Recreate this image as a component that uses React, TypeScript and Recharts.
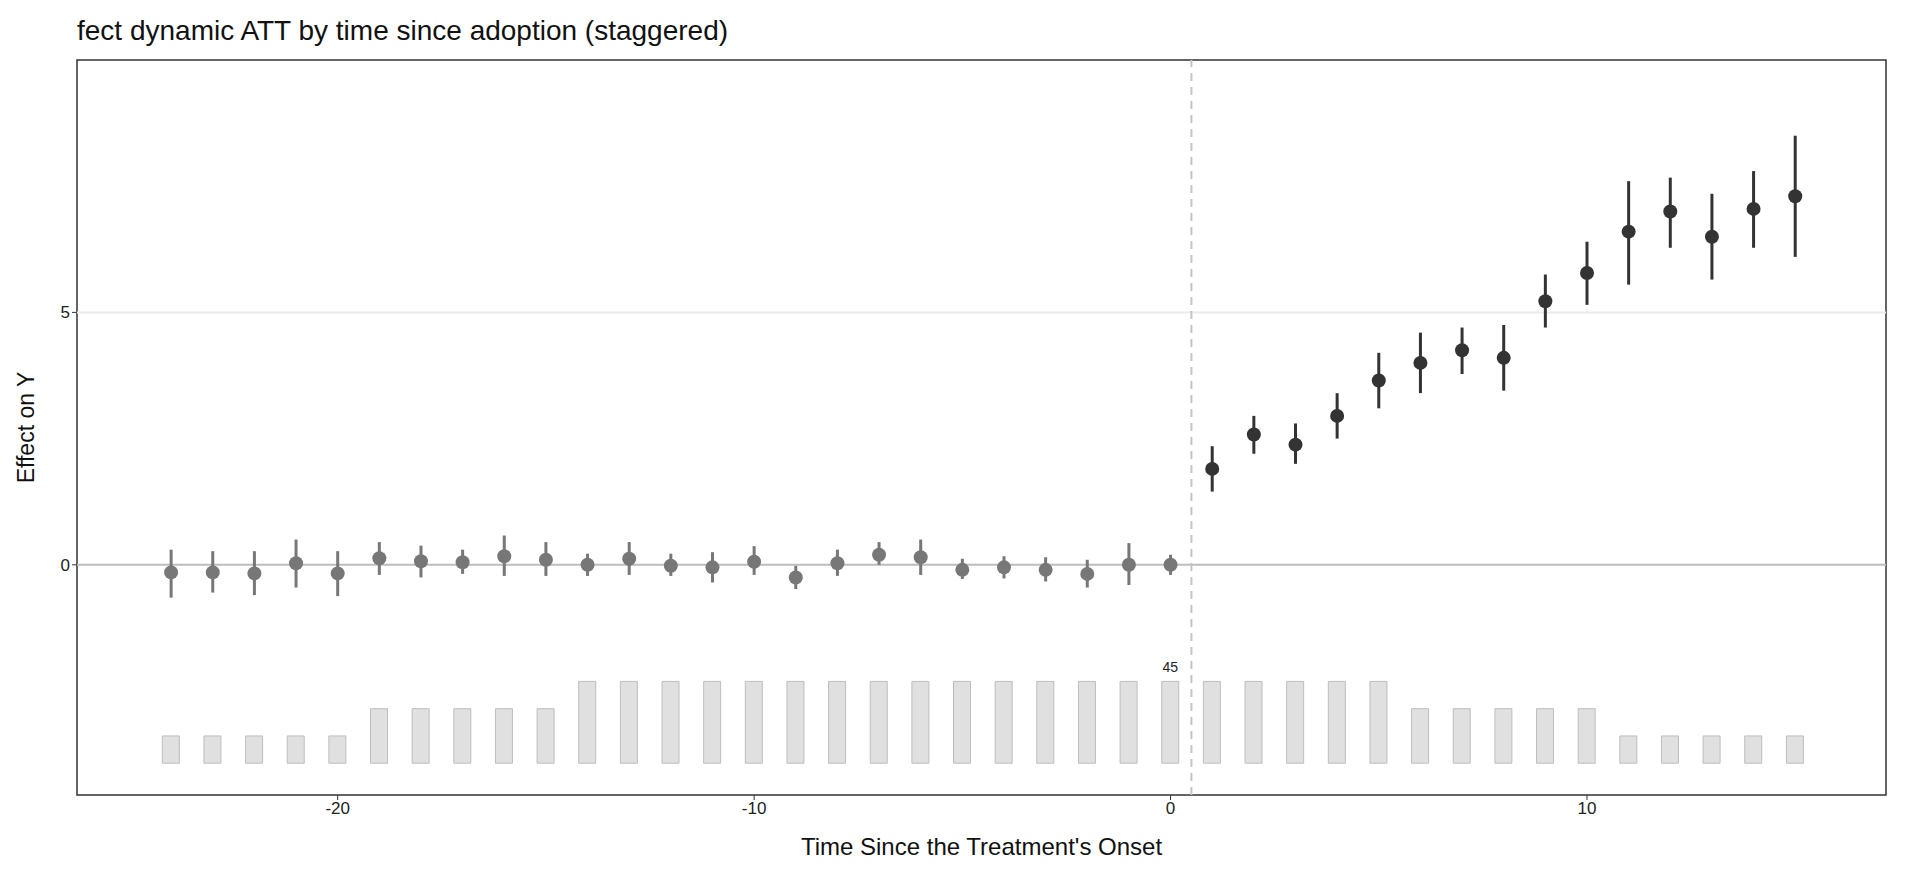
import React from "react";
import {
  ComposedChart,
  XAxis,
  YAxis,
  Bar,
  Scatter,
  ErrorBar,
  ReferenceLine,
  ReferenceArea,
  LabelList,
} from "recharts";

// event time, estimate, CI bounds, treated-unit counts
const times = [
  -24, -23, -22, -21, -20, -19, -18, -17, -16, -15, -14, -13, -12, -11, -10, -9, -8, -7, -6, -5,
  -4, -3, -2, -1, 0, 1, 2, 3, 4, 5, 6, 7, 8, 9, 10, 11, 12, 13, 14, 15,
];
const estimates = [
  -0.15, -0.15, -0.17, 0.03, -0.17, 0.13, 0.07, 0.05, 0.17, 0.1, 0.0, 0.12, -0.02, -0.05, 0.06,
  -0.25, 0.03, 0.2, 0.15, -0.1, -0.05, -0.1, -0.18, 0.0, 0.0, 1.9, 2.58, 2.38, 2.95, 3.65, 4.0,
  4.25, 4.1, 5.22, 5.78, 6.6, 7.0, 6.5, 7.05, 7.3,
];
const ciLow = [
  -0.65, -0.55, -0.6, -0.45, -0.62, -0.2, -0.25, -0.18, -0.22, -0.22, -0.22, -0.2, -0.22, -0.35,
  -0.2, -0.48, -0.22, 0.0, -0.2, -0.28, -0.27, -0.33, -0.45, -0.4, -0.2, 1.45, 2.2, 2.0, 2.5, 3.1,
  3.4, 3.78, 3.45, 4.7, 5.15, 5.55, 6.28, 5.65, 6.28, 6.1,
];
const ciHigh = [
  0.3, 0.27, 0.27, 0.5, 0.27, 0.45, 0.38, 0.3, 0.58, 0.45, 0.22, 0.45, 0.22, 0.25, 0.37, -0.02,
  0.3, 0.45, 0.5, 0.12, 0.17, 0.15, 0.1, 0.43, 0.2, 2.35, 2.95, 2.8, 3.4, 4.2, 4.6, 4.7, 4.75, 5.75,
  6.4, 7.6, 7.67, 7.35, 7.8, 8.5,
];
const counts = [
  15, 15, 15, 15, 15, 30, 30, 30, 30, 30, 45, 45, 45, 45, 45, 45, 45, 45, 45, 45, 45, 45, 45, 45,
  45, 45, 45, 45, 45, 45, 30, 30, 30, 30, 30, 15, 15, 15, 15, 15,
];

const BAR_BASE = -3.93;
const BAR_SCALE = 0.036;

const data = times.map((t, i) => ({
  t,
  est: estimates[i],
  err: [estimates[i] - ciLow[i], ciHigh[i] - estimates[i]],
  count: counts[i],
  bar: [BAR_BASE, BAR_BASE + counts[i] * BAR_SCALE],
}));
const pre = data.filter((d) => d.t <= 0);
const post = data.filter((d) => d.t > 0);

const X_DOMAIN: [number, number] = [-26.26, 17.18];
const Y_DOMAIN: [number, number] = [-4.56, 10.0];
const font = "Liberation Sans, Arial, sans-serif";

const dot = (color: string) => (p: any) => <circle cx={p.cx} cy={p.cy} r={7} fill={color} />;

export default function App() {
  return (
    <div style={{ position: "absolute", left: 0, top: 0, width: 1920, height: 883, background: "#fff", fontFamily: font }}>
      <div style={{ position: "absolute", left: 77, top: 15, fontSize: 28, color: "#111" }}>
        fect dynamic ATT by time since adoption (staggered)
      </div>
      <ComposedChart
        width={1920}
        height={883}
        data={data}
        margin={{ top: 60, right: 34, left: 0, bottom: 0 }}
      >
        <XAxis
          dataKey="t"
          type="number"
          domain={X_DOMAIN}
          ticks={[-20, -10, 0, 10]}
          allowDataOverflow
          height={88}
          axisLine={false}
          tickLine={{ stroke: "#333" }}
          tickSize={5}
          tick={{ fill: "#222", fontSize: 17, fontFamily: font }}
          label={{ value: "Time Since the Treatment's Onset", position: "insideBottom", offset: 28, fill: "#111", fontSize: 24, fontFamily: font }}
        />
        <YAxis
          type="number"
          domain={Y_DOMAIN}
          ticks={[0, 5]}
          allowDataOverflow
          width={77}
          axisLine={false}
          tickLine={{ stroke: "#333" }}
          tickSize={5}
          tick={{ fill: "#222", fontSize: 17, fontFamily: font }}
          label={{ value: "Effect on Y", angle: -90, position: "insideLeft", offset: 26, fill: "#111", fontSize: 23, fontFamily: font, style: { textAnchor: "middle" } }}
        />
        <ReferenceLine y={5} stroke="#ebebeb" strokeWidth={2} />
        <ReferenceLine y={0} stroke="#bdbdbd" strokeWidth={2} />
        <ReferenceLine x={0.5} stroke="#c4c4c4" strokeWidth={2} strokeDasharray="8 6" />
        <Bar dataKey="bar" barSize={17} fill="#e0e0e0" stroke="#bdbdbd" isAnimationActive={false}>
          <LabelList
            dataKey="count"
            content={(p: any) =>
              p.index === 24 ? (
                <text x={p.x + p.width / 2} y={p.y - 9} textAnchor="middle" fontSize={14} fill="#222" fontFamily={font}>
                  {p.value}
                </text>
              ) : null
            }
          />
        </Bar>
        <Scatter data={pre} dataKey="est" shape={dot("#777777")} isAnimationActive={false}>
          <ErrorBar dataKey="err" direction="y" width={0} stroke="#777777" strokeWidth={3} />
        </Scatter>
        <Scatter data={post} dataKey="est" shape={dot("#333333")} isAnimationActive={false}>
          <ErrorBar dataKey="err" direction="y" width={0} stroke="#333333" strokeWidth={3} />
        </Scatter>
        <ReferenceArea
          x1={X_DOMAIN[0]}
          x2={X_DOMAIN[1]}
          y1={Y_DOMAIN[0]}
          y2={Y_DOMAIN[1]}
          fill="none"
          stroke="#333"
          strokeWidth={1.5}
          fillOpacity={0}
          ifOverflow="visible"
        />
      </ComposedChart>
    </div>
  );
}
